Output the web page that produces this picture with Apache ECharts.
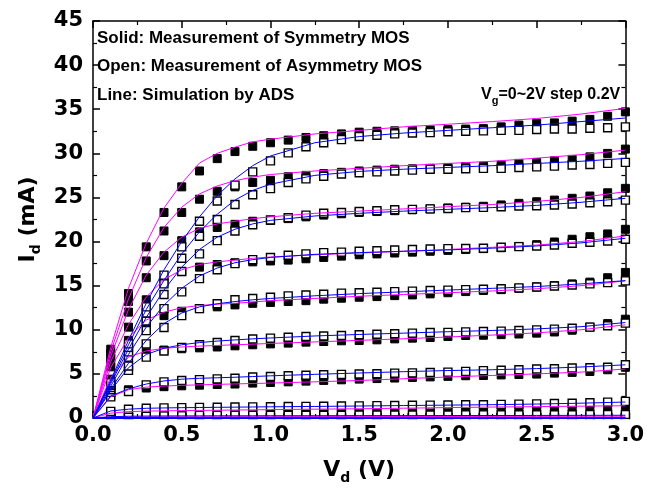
<!DOCTYPE html>
<html>
<head>
<meta charset="utf-8">
<script src="https://cdn.jsdelivr.net/npm/echarts@6/dist/echarts.min.js"></script>
<style>
  html, body { margin: 0; padding: 0; background: #fff; }
  #main { width: 647px; height: 497px; }
</style>
</head>
<body>
<div id="main"></div>
<script>
// Id-Vd curves, Vg = 0 ~ 2V step 0.2V
// measured points: Vd = 0.1 ... 3.0
const vdMeas = [0.1,0.2,0.3,0.4,0.5,0.6,0.7,0.8,0.9,1.0,1.1,1.2,1.3,1.4,1.5,1.6,1.7,1.8,1.9,2.0,2.1,2.2,2.3,2.4,2.5,2.6,2.7,2.8,2.9,3.0];
// simulation (ADS) points
const vdSim = [0,0.1,0.2,0.3,0.4,0.5,0.6,0.7,0.8,0.9,1.0,1.25,1.5,1.75,2.0,2.25,2.5,2.75,3.0];
const vgList = ['0.0','0.2','0.4','0.6','0.8','1.0','1.2','1.4','1.6','1.8','2.0'];

// solid squares: symmetry MOS (mA), one row per Vg
const solidMeas = [
  [0,0,0,0,0,0,0,0,0,0,0,0,0,0,0,0,0,0,0,0,0,0,0,0,0,0,0,0,0,0],
  [0.01,0.01,0.01,0.01,0.01,0.01,0.01,0.01,0.01,0.01,0.01,0.01,0.01,0.01,0.01,0.01,0.01,0.01,0.01,0.01,0.01,0.01,0.01,0.01,0.01,0.01,0.01,0.01,0.01,0.01],
  [0.12,0.15,0.16,0.16,0.17,0.17,0.17,0.18,0.18,0.18,0.18,0.19,0.19,0.19,0.19,0.2,0.2,0.2,0.2,0.21,0.21,0.21,0.22,0.22,0.22,0.23,0.23,0.24,0.24,0.25],
  [0.6,0.8,0.85,0.88,0.9,0.92,0.94,0.96,0.98,1.0,1.01,1.03,1.04,1.06,1.07,1.09,1.1,1.12,1.13,1.15,1.16,1.18,1.2,1.22,1.24,1.26,1.28,1.31,1.34,1.4],
  [2.5,3.2,3.4,3.55,3.65,3.72,3.8,3.85,3.96,4.03,4.1,4.18,4.26,4.33,4.41,4.47,4.53,4.6,4.66,4.72,4.79,4.82,4.88,4.93,4.98,5.09,5.17,5.27,5.47,5.75],
  [4.4,6.6,7.4,7.7,7.85,7.95,8.05,8.18,8.3,8.4,8.49,8.6,8.67,8.75,8.78,8.86,8.97,9.05,9.12,9.24,9.35,9.38,9.45,9.52,9.62,9.75,9.95,10.3,10.7,11.2],
  [5.8,8.8,10.8,11.6,12.1,12.4,12.6,12.82,13.0,13.1,13.2,13.3,13.47,13.58,13.69,13.76,13.87,13.95,14.07,14.2,14.33,14.45,14.55,14.7,14.85,15.0,15.2,15.4,15.9,16.5],
  [6.3,10.3,13.4,15.4,16.6,17.1,17.4,17.6,17.7,17.8,17.9,18.05,18.2,18.35,18.5,18.6,18.7,18.8,18.9,19.0,19.1,19.2,19.3,19.45,19.65,19.95,20.26,20.55,20.86,21.39],
  [6.8,12.0,15.9,18.4,20.1,21.1,21.6,21.95,22.3,22.4,22.6,22.8,23.0,23.15,23.3,23.4,23.5,23.6,23.7,23.8,23.9,24.0,24.15,24.33,24.51,24.7,24.9,25.16,25.53,26.03],
  [7.3,13.2,17.8,21.2,23.3,24.8,25.7,26.2,26.7,26.95,27.35,27.5,27.7,27.85,28.0,28.1,28.2,28.25,28.3,28.4,28.5,28.55,28.67,28.86,28.97,29.15,29.31,29.6,29.99,30.48],
  [7.8,14.1,19.4,23.3,26.2,28.0,29.4,30.2,30.8,31.2,31.5,31.8,32.0,32.2,32.4,32.5,32.55,32.6,32.65,32.7,32.75,32.8,33.0,33.2,33.4,33.45,33.65,33.85,34.2,34.7]
];

// open squares: asymmetry MOS (mA)
const openMeas = [
  [0,0,0,0,0,0,0,0,0,0,0,0,0,0,0,0,0,0,0,0,0,0,0,0,0,0,0,0,0,0],
  [0.02,0.02,0.02,0.02,0.02,0.02,0.02,0.02,0.02,0.02,0.02,0.02,0.02,0.02,0.02,0.02,0.02,0.02,0.02,0.02,0.02,0.02,0.02,0.02,0.02,0.02,0.02,0.02,0.02,0.02],
  [0.22,0.27,0.28,0.29,0.29,0.3,0.3,0.3,0.31,0.31,0.31,0.32,0.32,0.32,0.33,0.33,0.33,0.34,0.34,0.34,0.35,0.35,0.35,0.36,0.36,0.37,0.37,0.38,0.39,0.4],
  [0.75,1.0,1.1,1.15,1.18,1.2,1.22,1.24,1.26,1.28,1.3,1.32,1.34,1.36,1.38,1.4,1.42,1.44,1.46,1.48,1.5,1.51,1.54,1.57,1.6,1.64,1.68,1.73,1.8,1.88],
  [2.4,3.0,3.75,4.1,4.25,4.35,4.43,4.5,4.64,4.7,4.79,4.84,4.9,4.94,4.98,5.01,5.09,5.12,5.16,5.2,5.28,5.37,5.42,5.47,5.55,5.58,5.66,5.7,5.75,6.03],
  [2.9,5.4,6.9,7.6,8.0,8.3,8.55,8.78,8.95,9.05,9.15,9.24,9.3,9.35,9.43,9.5,9.55,9.62,9.69,9.71,9.76,9.8,9.85,9.92,9.99,10.07,10.18,10.3,10.45,10.75],
  [3.2,5.9,8.4,10.25,11.6,12.4,12.95,13.4,13.55,13.69,13.84,13.95,14.03,14.15,14.2,14.25,14.33,14.38,14.45,14.5,14.55,14.6,14.65,14.75,14.85,14.97,15.08,15.2,15.35,15.54],
  [3.45,6.9,9.9,12.4,14.3,15.8,16.8,17.5,17.95,18.2,18.45,18.6,18.75,18.8,18.9,18.95,19.05,19.1,19.15,19.2,19.22,19.24,19.35,19.42,19.5,19.61,19.8,19.92,20.07,20.26],
  [3.7,7.5,11.0,14.0,16.6,18.6,20.1,21.2,21.9,22.45,22.7,23.0,23.2,23.3,23.4,23.5,23.6,23.65,23.7,23.75,23.85,23.88,23.95,24.03,24.06,24.14,24.25,24.4,24.51,24.7],
  [3.85,8.0,11.9,15.2,18.1,20.6,22.5,24.2,25.3,26.0,26.7,27.1,27.4,27.65,27.8,27.9,28.0,28.1,28.2,28.2,28.25,28.29,28.3,28.4,28.47,28.55,28.67,28.74,28.86,28.97],
  [4.0,8.4,12.6,16.2,19.4,22.3,24.6,26.4,27.9,29.15,30.05,30.75,31.2,31.55,31.9,32.05,32.2,32.3,32.35,32.45,32.5,32.55,32.6,32.6,32.7,32.75,32.75,32.85,32.9,33.0]
];

// magenta lines: ADS simulation, symmetry MOS
const symSim = [
  [0,0,0,0,0,0,0,0,0,0,0,0,0,0,0,0,0,0,0],
  [0,0.01,0.01,0.01,0.01,0.01,0.01,0.01,0.01,0.01,0.01,0.01,0.01,0.01,0.01,0.01,0.01,0.01,0.01],
  [0,0.1,0.12,0.13,0.13,0.14,0.14,0.14,0.15,0.15,0.15,0.16,0.16,0.17,0.17,0.18,0.18,0.19,0.2],
  [0,0.55,0.72,0.78,0.81,0.84,0.86,0.88,0.9,0.92,0.95,1.0,1.05,1.11,1.18,1.24,1.29,1.34,1.39],
  [0,2.4,3.2,3.5,3.62,3.7,3.76,3.81,3.86,3.91,3.96,4.1,4.25,4.45,4.65,4.82,5.0,5.2,5.55],
  [0,4.6,6.9,7.6,7.9,8.05,8.15,8.22,8.3,8.37,8.45,8.62,8.8,8.98,9.18,9.4,9.65,10.0,10.56],
  [0,5.7,9.1,11.1,12.0,12.5,12.75,12.9,13.0,13.15,13.3,13.55,13.8,14.0,14.2,14.4,14.65,15.0,15.54],
  [0,6.4,10.6,13.7,15.7,16.8,17.4,17.7,17.9,18.1,18.25,18.5,18.7,18.9,19.1,19.35,19.6,20.0,20.63],
  [0,7.0,12.3,16.2,18.8,20.5,21.5,22.0,22.3,22.6,22.8,23.2,23.45,23.7,23.95,24.2,24.55,25.0,25.65],
  [0,7.5,13.5,18.2,21.6,23.9,25.4,26.3,26.9,27.3,27.6,28.0,28.3,28.6,28.85,29.1,29.45,29.85,30.36],
  [0,8.0,14.7,19.8,23.8,26.6,28.9,30.0,30.7,31.3,31.6,32.2,32.6,33.0,33.3,33.6,33.95,34.45,35.1]
];

// blue lines: ADS simulation, asymmetry MOS
const asymSim = [
  [0,0,0,0,0,0,0,0,0,0,0,0,0,0,0,0,0,0,0],
  [0,0.01,0.01,0.01,0.01,0.01,0.01,0.01,0.01,0.01,0.01,0.01,0.01,0.01,0.01,0.01,0.01,0.01,0.01],
  [0,0.15,0.2,0.22,0.23,0.24,0.24,0.25,0.25,0.25,0.26,0.26,0.27,0.27,0.28,0.28,0.29,0.3,0.31],
  [0,0.8,1.0,1.1,1.14,1.17,1.19,1.21,1.23,1.25,1.27,1.31,1.36,1.41,1.46,1.51,1.58,1.68,1.81],
  [0,2.5,3.3,3.85,4.2,4.4,4.5,4.56,4.62,4.7,4.78,4.95,5.1,5.25,5.38,5.47,5.6,5.78,6.03],
  [0,3.1,5.7,7.2,7.9,8.3,8.55,8.72,8.85,8.97,9.07,9.3,9.47,9.62,9.78,9.92,10.1,10.35,10.82],
  [0,3.3,6.2,8.8,10.7,11.9,12.6,12.95,13.2,13.4,13.55,13.85,14.1,14.3,14.5,14.7,14.9,15.2,15.57],
  [0,3.6,7.2,10.3,12.8,14.7,16.1,17.0,17.6,17.95,18.2,18.55,18.75,18.9,19.05,19.25,19.5,19.85,20.37],
  [0,3.9,7.8,11.4,14.5,17.1,19.1,20.5,21.4,22.0,22.4,22.9,23.2,23.45,23.65,23.85,24.1,24.45,24.9],
  [0,4.1,8.3,12.3,15.6,18.6,21.1,23.1,24.7,25.8,26.5,27.5,27.95,28.2,28.4,28.6,28.85,29.1,29.42],
  [0,4.3,8.8,13.0,16.8,20.0,22.8,25.2,27.1,28.6,29.7,31.2,31.9,32.3,32.6,32.9,33.2,33.6,34.0]
];

const chart = echarts.init(document.getElementById('main'), null, { renderer: 'canvas' });

const tickFont = { fontFamily: 'DejaVu Sans', fontWeight: 'bold', fontSize: 21, color: '#000' };
const lineAxis = { show: true, onZero: false, lineStyle: { color: '#000', width: 1.5 } };
const tickIn = { show: true, inside: true, length: 7, lineStyle: { color: '#000', width: 1.5 } };
const minorIn = { show: true, splitNumber: 2, length: 4, lineStyle: { color: '#000', width: 1.2 } };
const nameRich = {
  m: { fontFamily: 'DejaVu Sans', fontWeight: 'bold', fontSize: 22, color: '#000', lineHeight: 30 },
  s: { fontFamily: 'DejaVu Sans', fontWeight: 'bold', fontSize: 14, color: '#000', verticalAlign: 'bottom' }
};
const noteFont = 'bold 17px "Liberation Sans", Arial, sans-serif';

function pairs(xs, ys) {
  return xs.map((x, i) => [x, ys[i]]);
}

let series = [];
// measured points first, lines on top
vgList.forEach((vg, k) => {
  series.push({
    name: 'Sym Vg=' + vg, type: 'scatter', symbol: 'rect', symbolSize: 8, z: 2,
    itemStyle: { color: '#000', borderColor: '#000', borderWidth: 1, opacity: 1 },
    data: pairs(vdMeas, solidMeas[k])
  });
});
vgList.forEach((vg, k) => {
  series.push({
    name: 'Asym Vg=' + vg, type: 'scatter', symbol: 'rect', symbolSize: 8, z: 2,
    itemStyle: { color: '#fff', borderColor: '#000', borderWidth: 1.4, opacity: 1 },
    data: pairs(vdMeas, openMeas[k])
  });
});
vgList.forEach((vg, k) => {
  series.push({
    name: 'ADS sym Vg=' + vg, type: 'line', showSymbol: false, z: 3,
    lineStyle: { color: '#ff00ff', width: 1 },
    data: pairs(vdSim, symSim[k])
  });
});
vgList.forEach((vg, k) => {
  series.push({
    name: 'ADS asym Vg=' + vg, type: 'line', showSymbol: false, z: 4,
    lineStyle: { color: '#0000ff', width: k < 2 ? 2 : 1 },
    data: pairs(vdSim, asymSim[k])
  });
});

const option = {
  backgroundColor: '#fff',
  animation: false,
  grid: { left: 93, right: 21, top: 21, bottom: 79, containLabel: false },
  xAxis: [
    {
      type: 'value', min: 0, max: 3, interval: 0.5, position: 'bottom',
      axisLine: lineAxis, axisTick: tickIn, minorTick: minorIn,
      splitLine: { show: false }, minorSplitLine: { show: false },
      axisLabel: Object.assign({ margin: 7, formatter: v => v.toFixed(1) }, tickFont),
      name: '{m|V}{s|d}{m| (V)}', nameLocation: 'middle', nameGap: 37,
      nameTextStyle: { rich: nameRich }
    },
    {
      type: 'value', min: 0, max: 3, interval: 0.5, position: 'top',
      axisLine: lineAxis, axisTick: tickIn, minorTick: minorIn,
      splitLine: { show: false }, axisLabel: { show: false }
    }
  ],
  yAxis: [
    {
      type: 'value', min: 0, max: 45, interval: 5, position: 'left',
      axisLine: lineAxis, axisTick: tickIn, minorTick: minorIn,
      splitLine: { show: false }, minorSplitLine: { show: false },
      axisLabel: Object.assign({ margin: 10 }, tickFont),
      name: '{m|I}{s|d}{m| (mA)}', nameLocation: 'middle', nameGap: 50, nameRotate: 90,
      nameTextStyle: { rich: nameRich }
    },
    {
      type: 'value', min: 0, max: 45, interval: 5, position: 'right',
      axisLine: lineAxis, axisTick: tickIn, minorTick: minorIn,
      splitLine: { show: false }, axisLabel: { show: false }
    }
  ],
  graphic: [
    // hide the lower halves of the markers that sit on the Vd axis
    { type: 'rect', left: 88, top: 419.3, shape: { width: 544, height: 4.5 }, style: { fill: '#fff' }, z: 50 },
    { type: 'text', left: 97, top: 30, z: 60, style: { text: 'Solid: Measurement of Symmetry MOS', font: noteFont, fill: '#000' } },
    { type: 'text', left: 97, top: 58, z: 60, style: { text: 'Open: Measurement of Asymmetry MOS', font: noteFont, fill: '#000' } },
    { type: 'text', left: 97, top: 87, z: 60, style: { text: 'Line: Simulation by ADS', font: noteFont, fill: '#000' } },
    {
      type: 'text', left: 481, top: 87, z: 60,
      style: {
        text: '{m|V}{s|g}{m|=0~2V step 0.2V}',
        rich: {
          m: { fontFamily: 'Liberation Sans', fontWeight: 'bold', fontSize: 16, fill: '#000', lineHeight: 22 },
          s: { fontFamily: 'Liberation Sans', fontWeight: 'bold', fontSize: 11, fill: '#000', verticalAlign: 'bottom' }
        }
      }
    }
  ],
  series: series
};

chart.setOption(option);
</script>
</body>
</html>
